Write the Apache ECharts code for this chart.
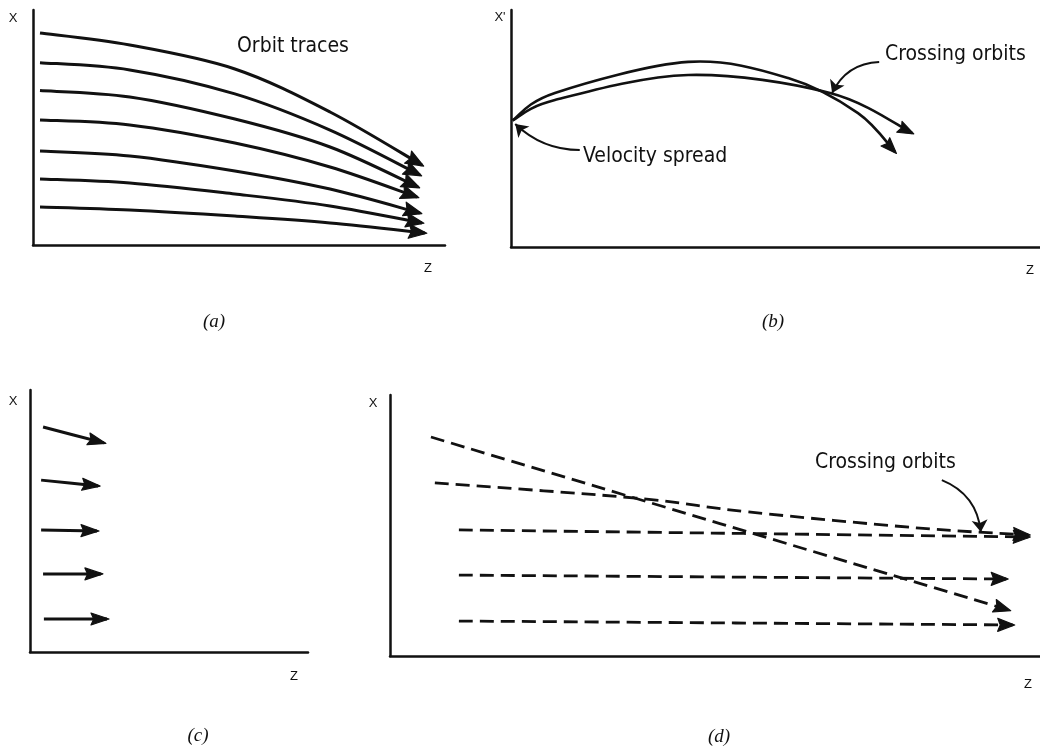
<!DOCTYPE html>
<html><head><meta charset="utf-8">
<script src="https://cdn.jsdelivr.net/npm/echarts@6/dist/echarts.min.js"></script>
<style>html,body{margin:0;padding:0;background:#fff}#c{width:1040px;height:746px}</style>
</head><body><div id="c"></div>
<script>
// ---------- DATA (axis units 0-100 in every panel: [z, x]) ----------
// Panel (a): orbit traces
const orbitA1 = [[1.7,90.2],[23.5,85.1],[49.0,74.9],[72.1,56.6],[94.4,34.0]];
const orbitA2 = [[1.7,77.6],[23.5,74.5],[49.0,64.3],[72.1,48.9],[93.9,29.8]];
const orbitA3 = [[1.7,65.7],[23.5,63.0],[49.0,53.6],[72.1,41.7],[93.4,24.7]];
const orbitA4 = [[1.7,53.2],[23.5,51.1],[49.0,43.4],[72.1,33.2],[93.2,20.4]];
const orbitA5 = [[1.7,40.0],[23.5,37.9],[49.0,31.5],[72.1,23.8],[93.9,13.6]];
const orbitA6 = [[1.7,28.1],[23.5,26.4],[49.0,21.7],[72.1,16.6],[94.4,9.4]];
const orbitA7 = [[1.7,16.2],[23.5,14.9],[49.0,12.3],[72.1,9.4],[95.1,5.1]];
// Panel (b): phase-space curves (x' vs z)
const curveBUpper = [[0.3,53.4],[8.3,65.0],[33.5,78.1],[52.4,71.3],[65.6,56.5],[72.6,40.1]];
const curveBLower = [[0.3,53.4],[8.3,62.0],[33.5,72.6],[60.3,65.0],[75.8,48.1]];
const pointerB1 = [[13.0,40.9],[0.8,51.9]];   // Velocity spread
const pointerB2 = [[69.6,78.1],[60.7,65.0]];  // Crossing orbits
// Panel (c): short velocity arrows
const arrowC1 = [[4.7,85.9],[26.6,79.8]];
const arrowC2 = [[4.0,65.6],[24.5,63.4]];
const arrowC3 = [[4.0,46.6],[24.1,46.2]];
const arrowC4 = [[4.7,29.8],[25.5,29.8]];
const arrowC5 = [[5.0,12.6],[27.7,12.6]];
// Panel (d): dashed orbits
const dashD1 = [[6.3,83.9],[95.2,17.6]];
const dashD2 = [[6.9,66.3],[37.8,60.5],[55.1,55.2],[81.5,49.0],[98.2,46.4]];
const dashD3 = [[10.6,48.3],[98.2,45.6]];
const dashD4 = [[10.6,31.0],[94.8,29.5]];
const dashD5 = [[10.6,13.4],[95.8,11.9]];
const pointerD = [[84.9,67.4],[90.9,47.5]];
// Texts
const axisNames = {a:['X','Z'], b:["X'",'Z'], c:['X','Z'], d:['X','Z']};
const annotationTexts = ['Orbit traces','Crossing orbits','Velocity spread','Crossing orbits'];
const captions = ['(a)','(b)','(c)','(d)'];

// ---------- BUILD ----------
const INK = '#111';
const FONT = '"Liberation Sans Narrow","DejaVu Sans Condensed",sans-serif';

const grids = [
  {left:33, top:10, width:412, height:235},
  {left:511, top:10, width:529, height:237},
  {left:30, top:390, width:278, height:262},
  {left:390, top:395, width:650, height:261}
];
const axBase = {type:'value', min:0, max:100,
  axisLine:{show:true, onZero:false, lineStyle:{color:INK, width:2.5}},
  axisTick:{show:false}, axisLabel:{show:false}, splitLine:{show:false}};
const xAxes = grids.map((g,i)=>Object.assign({gridIndex:i}, axBase));
const yAxes = grids.map((g,i)=>Object.assign({gridIndex:i}, axBase));

const series = [];
const f2 = v => v.toFixed(2);
// A smooth orbit through the data points (Catmull-Rom), with a solid arrowhead at its end.
function orbit(idx, pts, o) {
  series.push({type:'custom', coordinateSystem:'cartesian2d', xAxisIndex:idx, yAxisIndex:idx,
    silent:true, clip:false, data:pts, encode:{x:0, y:1},
    renderItem: function(params, api) {
      if (params.dataIndex !== 0) return null;
      const P = pts.map(p=>api.coord(p));
      const n = P.length;
      let d = 'M' + f2(P[0][0]) + ' ' + f2(P[0][1]);
      for (let i=0;i<n-1;i++) {
        const p0=P[Math.max(0,i-1)], p1=P[i], p2=P[i+1], p3=P[Math.min(n-1,i+2)];
        const c1=[p1[0]+(p2[0]-p0[0])/6, p1[1]+(p2[1]-p0[1])/6];
        const c2=[p2[0]-(p3[0]-p1[0])/6, p2[1]-(p3[1]-p1[1])/6];
        d += ' C' + f2(c1[0])+' '+f2(c1[1])+' '+f2(c2[0])+' '+f2(c2[1])+' '+f2(p2[0])+' '+f2(p2[1]);
      }
      const tip = P[n-1], prev = P[n-2];
      let ux = tip[0]-prev[0], uy = tip[1]-prev[1];
      const len = Math.hypot(ux,uy); ux/=len; uy/=len;
      const L = o.L, W = o.W;
      const t = [tip[0]+ux*2, tip[1]+uy*2];
      const bx = t[0]-ux*L, by = t[1]-uy*L;
      const nx = -uy, ny = ux;
      const head = [t, [bx+nx*W, by+ny*W], [t[0]-ux*L*0.85, t[1]-uy*L*0.85], [bx-nx*W, by-ny*W]];
      return {type:'group', children:[
        {type:'path', shape:{pathData:d}, style:{fill:'none', stroke:INK, lineWidth:o.w, lineDash:o.dash||null}},
        {type:'polygon', shape:{points:head}, style:{fill:INK, stroke:INK, lineWidth:1.2, lineJoin:'round'}}
      ]};
    }
  });
}
function pointer(idx, seg, curveness) {
  series.push({type:'lines', coordinateSystem:'cartesian2d', xAxisIndex:idx, yAxisIndex:idx,
    polyline:false, symbol:['none','arrow'], symbolSize:[9,12], silent:true,
    lineStyle:{color:INK, width:2, opacity:1, curveness:curveness},
    data:[{coords:seg}]});
}
// (a)
[orbitA1,orbitA2,orbitA3,orbitA4,orbitA5,orbitA6,orbitA7].forEach(o=>orbit(0,o,{w:3,L:18,W:7}));
// (b)
orbit(1, curveBUpper, {w:2.6,L:16,W:6});
orbit(1, curveBLower, {w:2.6,L:16,W:6});
pointer(1, pointerB1, 0.2);
pointer(1, pointerB2, -0.3);
// (c)
[arrowC1,arrowC2,arrowC3,arrowC4,arrowC5].forEach(a=>orbit(2,a,{w:3,L:18,W:6}));
// (d)
[dashD1,dashD2,dashD3,dashD4,dashD5].forEach(a=>orbit(3,a,{w:2.8,L:17,W:6.5,dash:[14,7]}));
pointer(3, pointerD, 0.3);

function txt(str, x, y, size, opts) {
  return Object.assign({type:'text', x:x, y:y, silent:true,
    style:Object.assign({text:str, fill:INK, font:size+'px '+FONT, textAlign:'left', textVerticalAlign:'middle'}, opts||{})});
}
const AX = '13px "Liberation Sans",sans-serif';
const CAP = 'italic 19px "Liberation Serif",serif';
const graphic = [
  txt(axisNames.a[0],13,18,13,{font:AX,textAlign:'center'}),
  txt(axisNames.a[1],428,268,13,{font:AX,textAlign:'center'}),
  txt(axisNames.b[0],500,17,13,{font:AX,textAlign:'center'}),
  txt(axisNames.b[1],1030,270,13,{font:AX,textAlign:'center'}),
  txt(axisNames.c[0],13,401,13,{font:AX,textAlign:'center'}),
  txt(axisNames.c[1],294,676,13,{font:AX,textAlign:'center'}),
  txt(axisNames.d[0],373,403,13,{font:AX,textAlign:'center'}),
  txt(axisNames.d[1],1028,684,13,{font:AX,textAlign:'center'}),
  txt(annotationTexts[0],237,47,21),
  txt(annotationTexts[1],885,55,21),
  txt(annotationTexts[2],583,157,21),
  txt(annotationTexts[3],815,463,21),
  txt(captions[0],214,322,19,{font:CAP,textAlign:'center'}),
  txt(captions[1],773,322,19,{font:CAP,textAlign:'center'}),
  txt(captions[2],198,736,19,{font:CAP,textAlign:'center'}),
  txt(captions[3],719,737,19,{font:CAP,textAlign:'center'})
];

const chart = echarts.init(document.getElementById('c'), null, {renderer:'canvas'});
chart.setOption({backgroundColor:'#fff', animation:false, grid:grids, xAxis:xAxes, yAxis:yAxes, series:series, graphic:graphic});
</script></body></html>
